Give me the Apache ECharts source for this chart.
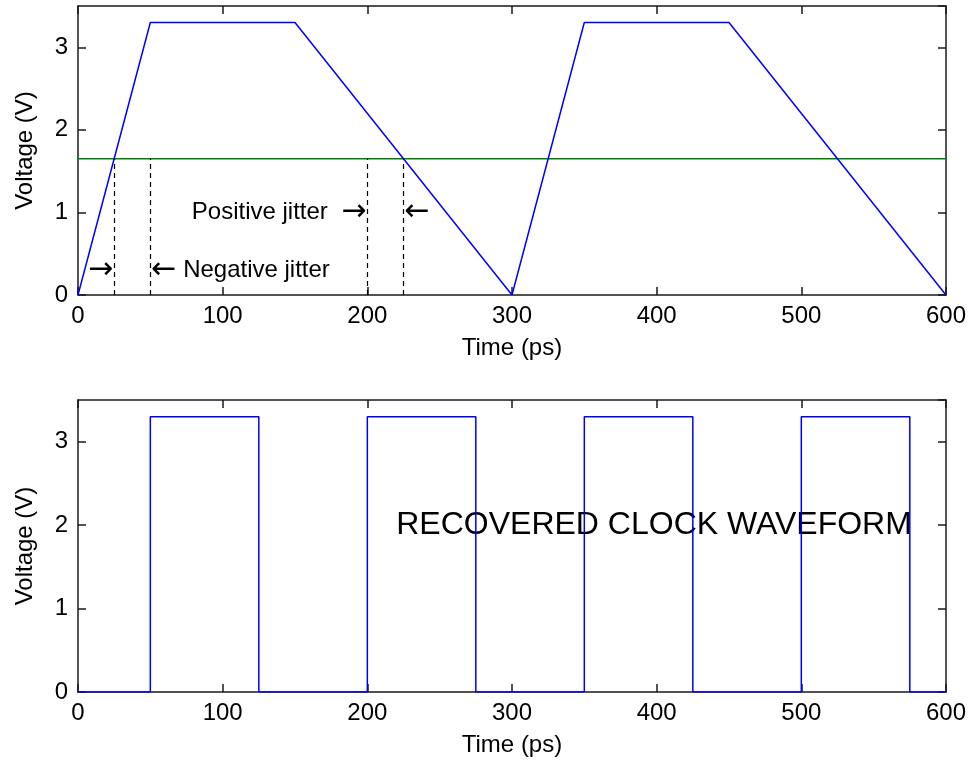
<!DOCTYPE html>
<html>
<head>
<meta charset="utf-8">
<script src="https://cdn.jsdelivr.net/npm/echarts@6/dist/echarts.min.js"></script>
<style>
  html, body { margin: 0; padding: 0; background: #ffffff; }
  #chart { width: 969px; height: 763px; }
</style>
</head>
<body>
<div id="chart"></div>
<script>
// Data signal (top panel): trapezoidal transitions, ps vs V
const dataTime = [0, 50, 150, 300, 350, 450, 600];
const dataVolt = [0, 3.3, 3.3, 0, 3.3, 3.3, 0];

// Decision threshold level and its extent
const thresholdVolt = 1.65;
const thresholdSpan = [0, 600];

// Jitter marker positions (dashed verticals from 0 V up to the threshold)
const jitterMarkTime = [25, 50, 200, 225];

// Annotation texts and anchors
const noteText = ['\u2192', '\u2190 Negative jitter', 'Positive jitter  \u2192', '\u2190'];
const noteTime = [25, 50, 200, 225];
const noteVolt = [0.3, 0.3, 1, 1];
const noteSide = ['left', 'right', 'left', 'right'];

// Recovered clock (bottom panel)
const clockTime = [0, 50, 50, 125, 125, 200, 200, 275, 275, 350, 350, 425, 425, 500, 500, 575, 575, 600];
const clockVolt = [0, 0, 3.3, 3.3, 0, 0, 3.3, 3.3, 0, 0, 3.3, 3.3, 0, 0, 3.3, 3.3, 0, 0];
const clockCaption = 'RECOVERED CLOCK WAVEFORM';
const clockCaptionTime = 220;
const clockCaptionVolt = 2;

// Axis ranges and tick labels
const timeRange = [0, 600];
const timeTicks = [0, 100, 200, 300, 400, 500, 600];
const voltRange = [0, 3.5];
const voltTicks = [0, 1, 2, 3];

const FONT = "'Liberation Sans', Arial, Helvetica, sans-serif";
const ARROW_FONT = "'DejaVu Sans', sans-serif";
const AXIS_COLOR = '#1a1a1a';

function pairs(xs, ys) { return xs.map((x, i) => [x, ys[i]]); }

// Arrows are set in a font with long arrow glyphs
function richArrows(s) {
  return s.replace(/[\u2190\u2192]/g, m => '{arr|' + m + '}');
}

function timeAxis(gridIndex, position, withLabels) {
  return {
    type: 'value', gridIndex, position,
    min: timeRange[0], max: timeRange[1], interval: timeTicks[1] - timeTicks[0],
    name: withLabels ? 'Time (ps)' : '',
    nameLocation: 'middle', nameGap: 41,
    nameTextStyle: { fontFamily: FONT, fontSize: 24, color: '#000' },
    axisLine: { show: true, onZero: false, lineStyle: { color: AXIS_COLOR, width: 1.5 } },
    axisTick: { show: true, inside: true, length: 8, lineStyle: { color: AXIS_COLOR, width: 1.5 } },
    axisLabel: {
      show: withLabels, margin: 9, fontFamily: FONT, fontSize: 24, color: '#000',
      formatter: v => (timeTicks.includes(v) ? String(v) : '')
    },
    splitLine: { show: false }
  };
}

function voltAxis(gridIndex, position, withLabels) {
  return {
    type: 'value', gridIndex, position,
    min: voltRange[0], max: voltRange[1], interval: 1,
    name: withLabels ? 'Voltage (V)' : '',
    nameLocation: 'middle', nameGap: 41,
    nameTextStyle: { fontFamily: FONT, fontSize: 24, color: '#000' },
    axisLine: { show: true, onZero: false, lineStyle: { color: AXIS_COLOR, width: 1.5 } },
    axisTick: { show: true, inside: true, length: 8, lineStyle: { color: AXIS_COLOR, width: 1.5 } },
    axisLabel: {
      show: withLabels, margin: 10, showMaxLabel: false, fontFamily: FONT, fontSize: 24, color: '#000',
      formatter: v => (voltTicks.includes(v) ? String(v) : '')
    },
    splitLine: { show: false }
  };
}

const chart = echarts.init(document.getElementById('chart'), null, { renderer: 'canvas' });

chart.setOption({
  animation: false,
  backgroundColor: '#ffffff',
  grid: [
    { left: 78, top: 6, width: 868, height: 289 },
    { left: 78, top: 400, width: 868, height: 292 }
  ],
  xAxis: [
    timeAxis(0, 'bottom', true),
    timeAxis(0, 'top', false),
    timeAxis(1, 'bottom', true),
    timeAxis(1, 'top', false)
  ],
  yAxis: [
    voltAxis(0, 'left', true),
    voltAxis(0, 'right', false),
    voltAxis(1, 'left', true),
    voltAxis(1, 'right', false)
  ],
  series: [
    {
      name: 'threshold', type: 'line', xAxisIndex: 0, yAxisIndex: 0,
      data: thresholdSpan.map(t => [t, thresholdVolt]),
      symbol: 'none', lineStyle: { color: '#008000', width: 1.5 },
      markLine: {
        silent: true, symbol: 'none', label: { show: false },
        lineStyle: { color: '#000', type: [5, 4], width: 1.2 },
        data: jitterMarkTime.map(t => [{ coord: [t, 0] }, { coord: [t, thresholdVolt] }])
      },
      z: 2
    },
    {
      name: 'data', type: 'line', xAxisIndex: 0, yAxisIndex: 0,
      data: pairs(dataTime, dataVolt),
      symbol: 'none', lineStyle: { color: '#0000ff', width: 1.5 }, z: 3
    },
    {
      name: 'notes', type: 'scatter', xAxisIndex: 0, yAxisIndex: 0,
      data: noteText.map((s, i) => ({
        value: [noteTime[i], noteVolt[i]],
        label: { position: noteSide[i] }
      })),
      symbolSize: 0, silent: true,
      itemStyle: { opacity: 1 },
      label: {
        show: true, distance: 1, color: '#000', fontFamily: FONT, fontSize: 24,
        formatter: p => richArrows(noteText[p.dataIndex]),
        rich: {
          arr: { fontFamily: ARROW_FONT, fontSize: 30, color: '#000' }
        }
      },
      z: 4
    },
    {
      name: 'clock', type: 'line', xAxisIndex: 2, yAxisIndex: 2,
      data: pairs(clockTime, clockVolt),
      symbol: 'none', lineStyle: { color: '#0000ff', width: 1.5 }, z: 3
    },
    {
      name: 'caption', type: 'scatter', xAxisIndex: 2, yAxisIndex: 2,
      data: [[clockCaptionTime, clockCaptionVolt]],
      symbolSize: 0, silent: true,
      itemStyle: { opacity: 1 },
      label: {
        show: true, position: 'right', distance: 0, color: '#000',
        fontFamily: FONT, fontSize: 32, formatter: () => clockCaption
      },
      z: 2
    }
  ]
});
</script>
</body>
</html>
